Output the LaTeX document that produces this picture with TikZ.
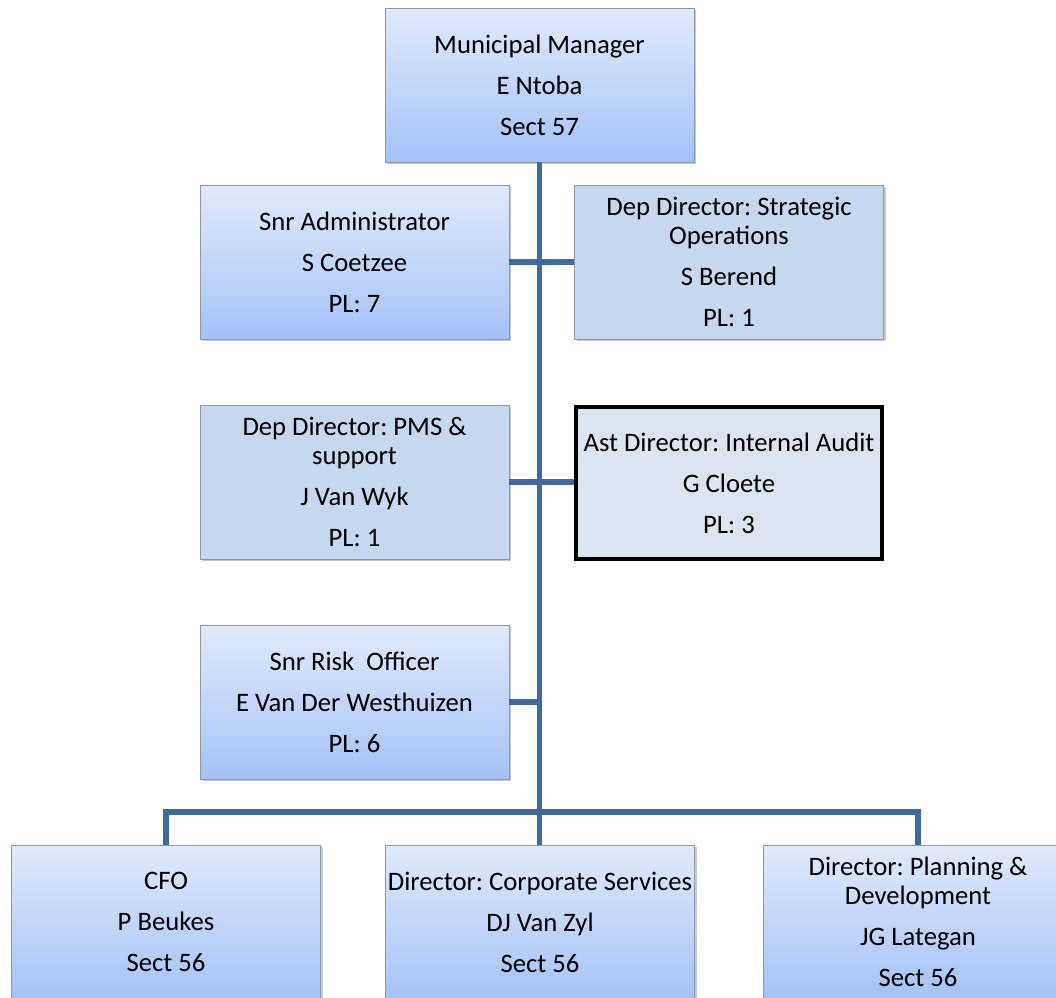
\documentclass[tikz,border=0pt]{standalone}
\usepackage{fontspec}
\setmainfont{Carlito}
\usetikzlibrary{shadows}
\definecolor{gradtop}{HTML}{E1EAFC}
\definecolor{gradbot}{HTML}{A4C2F7}
\definecolor{flatfill}{HTML}{C6D8EF}
\definecolor{auditfill}{HTML}{DBE5F1}
\definecolor{boxline}{HTML}{8E99A8}
\definecolor{conn}{HTML}{3F6A9A}
\tikzset{
  basebox/.style={rectangle, draw=boxline, line width=0.6pt, align=center,
    minimum width=231.75pt, minimum height=115.5pt, inner sep=0pt,
    font=\fontsize{20}{21.75}\selectfont\frenchspacing,
    drop shadow={shadow xshift=1.5pt, shadow yshift=-1.8pt, opacity=0.3, fill=black!70}},
  gradbox/.style={basebox, shading=axis, top color=gradtop, bottom color=gradbot},
  flatbox/.style={basebox, fill=flatfill},
  auditbox/.style={rectangle, draw=black, line width=3pt, fill=auditfill, align=center,
    minimum width=229.5pt, minimum height=114pt, inner sep=0pt,
    font=\fontsize{20}{21.75}\selectfont\frenchspacing},
  link/.style={draw=conn, line width=3.8pt}
}
\begin{document}
\begin{tikzpicture}[x=0.75pt, y=-0.75pt]
\useasboundingbox (0,0) rectangle (1056,997);
\clip (0,0) rectangle (1056,997);
% boxes
\node[gradbox] (mm) at (539.5,85) {Municipal Manager\\[9pt]E Ntoba\\[9pt]Sect 57};
\node[gradbox] (sa) at (354.5,262) {Snr Administrator\\[9pt]S Coetzee\\[9pt]PL: 7};
\node[flatbox] (sds) at (729,262) {Dep Director: Strategic\\Operations\\[9pt]S Berend\\[9pt]PL: 1};
\node[flatbox] (pms) at (354.5,482) {Dep Director: PMS \&\\support\\[9pt]J Van Wyk\\[9pt]PL: 1};
\node[auditbox] (audit) at (729,483) {Ast Director: Internal Audit\\[9pt]G Cloete\\[9pt]PL: 3};
\node[gradbox] (risk) at (354.5,702) {Snr Risk~ Officer\\[9pt]E Van Der Westhuizen\\[9pt]PL: 6};
\node[gradbox] (cfo) at (166,922) {CFO\\[9pt]P Beukes\\[9pt]Sect 56};
\node[gradbox] (cs) at (540,922) {Director: Corporate Services\\[9pt]DJ Van Zyl\\[9pt]Sect 56};
\node[gradbox] (pd) at (918,922) {Director: Planning \&\\Development\\[9pt]JG Lategan\\[9pt]Sect 56};
% connectors
\coordinate (bar) at (539.5,812);
\draw[link] (mm.south) -- (bar);
\draw[link] (sa.east) -- (sds.west);
\draw[link] (pms.east) -- (pms.east -| audit.west);
\draw[link] (risk.east) -- (risk.east -| mm.south);
\draw[link, line join=miter] (cfo.north) |- (bar) -| (pd.north);
\draw[link] (bar) -- (bar |- cs.north);
\end{tikzpicture}
\end{document}
